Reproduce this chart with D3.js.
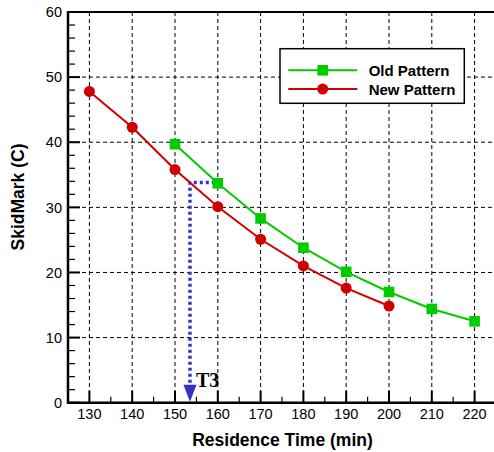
<!DOCTYPE html>
<html><head><meta charset="utf-8">
<script src="https://cdn.jsdelivr.net/npm/d3@7"></script>
<style>body{margin:0;background:#fff}svg{display:block}</style>
</head><body>
<script>
const oldX = [150,160,170,180,190,200,210,220];
const oldY = [39.7,33.7,28.3,23.8,20.1,17.0,14.4,12.5];
const newX = [130,140,150,160,170,180,190,200];
const newY = [47.8,42.3,35.8,30.1,25.1,21.0,17.6,14.85];
const xTicks = [130,140,150,160,170,180,190,200,210,220];
const yTicks = [0,10,20,30,40,50,60];
const seriesNames = ["Old Pattern","New Pattern"];
const t3Point = {x:153.5, y:33.8, xEnd:160, label:"T3"};

const W=494,H=452;
const svg=d3.select("body").append("svg").attr("width",W).attr("height",H);
const x=d3.scaleLinear().domain([125,231]).range([68,68+106*4.28]);
const y=d3.scaleLinear().domain([0,60]).range([402.7,12]);
const font="'Liberation Sans', Arial, sans-serif";

// grid
const g=svg.append("g");
g.selectAll(".vx").data(xTicks).enter().append("line")
 .attr("x1",d=>x(d)).attr("x2",d=>x(d)).attr("y1",y(60)).attr("y2",y(0))
 .attr("stroke","#000").attr("stroke-width",1).attr("stroke-dasharray","4,3");
g.selectAll(".hy").data(yTicks.filter(d=>d>0&&d<60)).enter().append("line")
 .attr("x1",x(125)).attr("x2",W+20).attr("y1",d=>y(d)).attr("y2",d=>y(d))
 .attr("stroke","#000").attr("stroke-width",1).attr("stroke-dasharray","4,3");

// minor/major ticks inward
const yMinor=d3.range(0,61,2).filter(v=>v%10!==0);
const xMinor=d3.range(125,231,5).filter(v=>v%10!==0);
svg.selectAll(".ymaj").data(yTicks).enter().append("line")
 .attr("x1",x(125)).attr("x2",x(125)+12).attr("y1",d=>y(d)).attr("y2",d=>y(d))
 .attr("stroke","#000").attr("stroke-width",2);
svg.selectAll(".ymin").data(yMinor).enter().append("line")
 .attr("x1",x(125)).attr("x2",x(125)+7).attr("y1",d=>y(d)).attr("y2",d=>y(d))
 .attr("stroke","#000").attr("stroke-width",1.2);
svg.selectAll(".xmaj").data(xTicks).enter().append("line")
 .attr("x1",d=>x(d)).attr("x2",d=>x(d)).attr("y1",y(0)).attr("y2",y(0)-12)
 .attr("stroke","#000").attr("stroke-width",2);
svg.selectAll(".xmin").data(xMinor).enter().append("line")
 .attr("x1",d=>x(d)).attr("x2",d=>x(d)).attr("y1",y(0)).attr("y2",y(0)-6)
 .attr("stroke","#000").attr("stroke-width",1.2);

// frame
svg.append("line").attr("x1",x(125)).attr("x2",W+5).attr("y1",y(0)).attr("y2",y(0)).attr("stroke","#000").attr("stroke-width",2.5);
svg.append("line").attr("x1",x(125)).attr("x2",W+5).attr("y1",y(60)).attr("y2",y(60)).attr("stroke","#000").attr("stroke-width",2);
svg.append("line").attr("x1",x(125)).attr("x2",x(125)).attr("y1",y(60)-1).attr("y2",y(0)+1.2).attr("stroke","#000").attr("stroke-width",2.5);

// tick labels
svg.selectAll(".xl").data(xTicks).enter().append("text")
 .attr("x",d=>x(d)).attr("y",418.5).attr("text-anchor","middle")
 .attr("font-family",font).attr("font-size",14.5).text(d=>d);
svg.selectAll(".yl").data(yTicks).enter().append("text")
 .attr("x",62).attr("y",d=>y(d)+5.2).attr("text-anchor","end")
 .attr("font-family",font).attr("font-size",14.5).text(d=>d);

// axis titles
svg.append("text").attr("x",282.5).attr("y",446).attr("text-anchor","middle")
 .attr("font-family",font).attr("font-size",17.5).attr("font-weight","bold").text("Residence Time (min)");
svg.append("text").attr("transform","translate(23.5,197) rotate(-90)").attr("text-anchor","middle")
 .attr("font-family",font).attr("font-size",17.5).attr("font-weight","bold").text("SkidMark (C)");

// T3 annotation
const blue="#3333cc";
svg.append("path").attr("d",`M${x(t3Point.xEnd)-3},${y(t3Point.y)} H${x(t3Point.x)} V${y(0)-17}`)
 .attr("fill","none").attr("stroke",blue).attr("stroke-width",3.5).attr("stroke-dasharray","3,3");
svg.append("path").attr("d",`M${x(t3Point.x)-6.5},${y(0)-18} L${x(t3Point.x)+6.5},${y(0)-18} L${x(t3Point.x)},${y(0)-1} Z`)
 .attr("fill",blue);
svg.append("text").attr("x",x(t3Point.x)+6).attr("y",387).attr("font-family","'Liberation Serif', 'Times New Roman', serif")
 .attr("font-size",20).attr("font-weight","bold").text(t3Point.label);

// series
const green="#00cc00", red="#d00000";
const line=d3.line().x(d=>x(d[0])).y(d=>y(d[1]));
const oldD=oldX.map((v,i)=>[v,oldY[i]]);
const newD=newX.map((v,i)=>[v,newY[i]]);
svg.append("path").attr("d",line(newD)).attr("fill","none").attr("stroke",red).attr("stroke-width",2);
svg.append("path").attr("d",line(oldD)).attr("fill","none").attr("stroke",green).attr("stroke-width",2);
svg.selectAll(".nm").data(newD).enter().append("circle")
 .attr("cx",d=>x(d[0])).attr("cy",d=>y(d[1])).attr("r",5.5).attr("fill",red);
svg.selectAll(".om").data(oldD).enter().append("rect")
 .attr("x",d=>x(d[0])-5.3).attr("y",d=>y(d[1])-5.3).attr("width",10.6).attr("height",10.6).attr("fill",green);

// legend
const lg=svg.append("g");
lg.append("rect").attr("x",280).attr("y",48.7).attr("width",184.3).attr("height",54.6)
 .attr("fill","#fff").attr("stroke","#000").attr("stroke-width",1.5);
const rows=[{n:seriesNames[0],c:green,yy:70.3,sq:true},{n:seriesNames[1],c:red,yy:89,sq:false}];
rows.forEach(r=>{
  lg.append("line").attr("x1",288.3).attr("x2",357.3).attr("y1",r.yy).attr("y2",r.yy).attr("stroke",r.c).attr("stroke-width",2);
  if(r.sq) lg.append("rect").attr("x",322.7-5.3).attr("y",r.yy-5.3).attr("width",10.6).attr("height",10.6).attr("fill",r.c);
  else lg.append("circle").attr("cx",322.7).attr("cy",r.yy).attr("r",5.5).attr("fill",r.c);
  lg.append("text").attr("x",368.7).attr("y",r.yy+5.5).attr("font-family",font).attr("font-size",15)
   .attr("font-weight","bold").text(r.n);
});
</script>
</body></html>
